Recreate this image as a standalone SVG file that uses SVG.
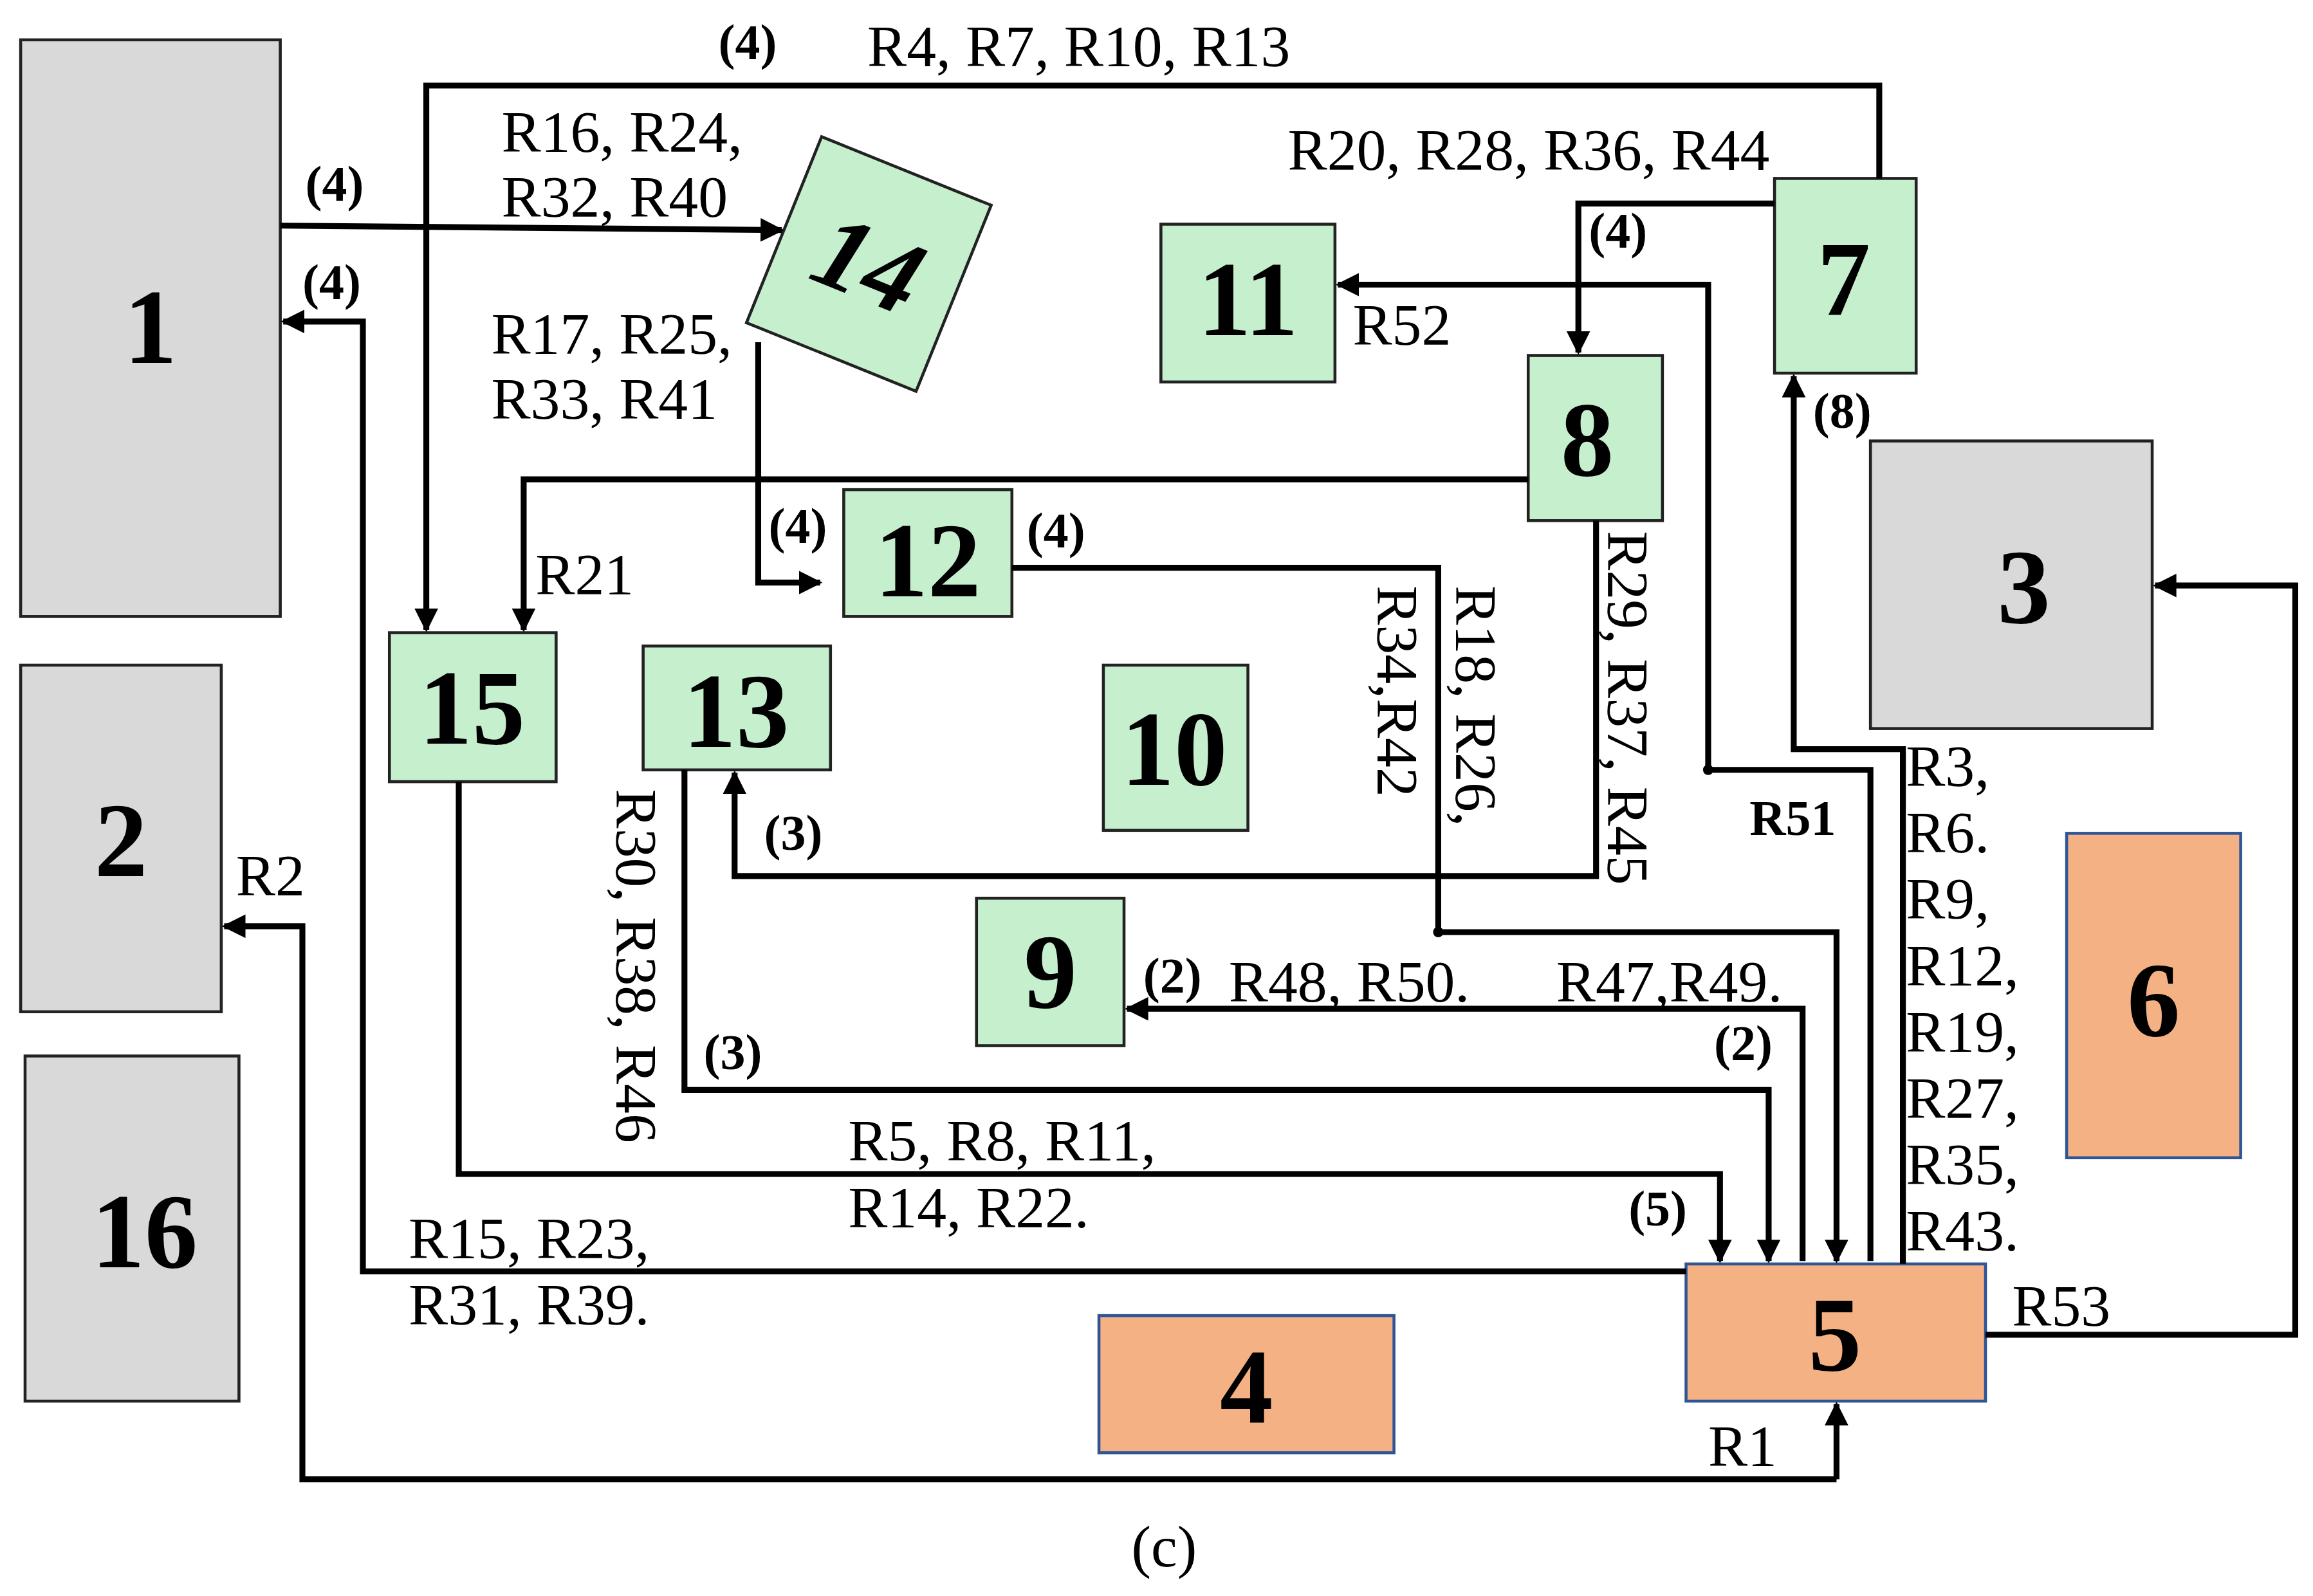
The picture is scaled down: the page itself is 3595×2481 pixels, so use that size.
<svg xmlns="http://www.w3.org/2000/svg" width="3595" height="2481" viewBox="0 0 3595 2481">
<defs>
<marker id="ah" viewBox="0 0 10 10" refX="9" refY="5" markerWidth="4" markerHeight="4" orient="auto" markerUnits="strokeWidth"><path d="M0,0 L10,5 L0,10 z" fill="#000"/></marker>
<style>
.g{fill:#d9d9d9;stroke:#222;stroke-width:2}
.gr{fill:#c6efce;stroke:#222;stroke-width:2}
.o{fill:#f4b183;stroke:#2f5597;stroke-width:2}
.n{font-family:"Liberation Serif",serif;font-weight:bold;font-size:72px;text-anchor:middle;dominant-baseline:central}
.l{font-family:"Liberation Serif",serif;font-size:40px}
.b{font-family:"Liberation Serif",serif;font-size:34px;font-weight:bold}
.c{fill:none;stroke:#000;stroke-width:4}
</style>
</defs>
<rect width="3595" height="2481" fill="#fff"/>
<g transform="scale(2.2927)">
<g id="n1"><rect class="g" x="14" y="27" width="176" height="391"/><text class="n" x="102" y="222">1</text></g>
<g id="n2"><rect class="g" x="14" y="451" width="136" height="235"/><text class="n" x="82" y="570">2</text></g>
<g id="n16"><rect class="g" x="17" y="716" width="145" height="234"/><text class="n" x="98" y="835">16</text></g>
<g id="n3"><rect class="g" x="1268" y="299" width="191" height="195"/><text class="n" x="1372" y="398">3</text></g>
<g id="n6"><rect class="o" x="1401" y="565" width="118" height="220"/><text class="n" x="1460" y="678">6</text></g>
<g id="n4"><rect class="o" x="745" y="892" width="200" height="93"/><text class="n" x="845" y="940">4</text></g>
<g id="n5"><rect class="o" x="1143" y="857" width="203" height="93"/><text class="n" x="1244" y="905">5</text></g>
<g id="n11"><rect class="gr" x="787" y="152" width="118" height="107"/><text class="n" x="846" y="203">11</text></g>
<g id="n7"><rect class="gr" x="1203" y="121" width="96" height="132"/><text class="n" x="1250" y="189">7</text></g>
<g id="n8"><rect class="gr" x="1036" y="241" width="91" height="112"/><text class="n" x="1076" y="298">8</text></g>
<g id="n12"><rect class="gr" x="572" y="332" width="114" height="86"/><text class="n" x="629" y="380">12</text></g>
<g id="n15"><rect class="gr" x="264" y="429" width="113" height="101"/><text class="n" x="320" y="480">15</text></g>
<g id="n13"><rect class="gr" x="436" y="438" width="127" height="84"/><text class="n" x="499" y="482">13</text></g>
<g id="n10"><rect class="gr" x="748" y="451" width="98" height="112"/><text class="n" x="796" y="508">10</text></g>
<g id="n9"><rect class="gr" x="662" y="609" width="100" height="100"/><text class="n" x="712" y="659">9</text></g>
<g id="n14" transform="translate(589,179) rotate(22)"><rect class="gr" x="-62" y="-68" width="124" height="136"/><text class="n" x="0" y="0" font-style="italic">14</text></g>
<g id="connectors">
<polyline class="c" points="1274,121 1274,58 289,58 289,427" marker-end="url(#ah)"/>
<polyline class="c" points="190,153 530,156" marker-end="url(#ah)"/>
<polyline class="c" points="1143,862 246,862 246,218 192,218" marker-end="url(#ah)"/>
<polyline class="c" points="514,232 514,395 556,395" marker-end="url(#ah)"/>
<polyline class="c" points="1036,325 355,325 355,427" marker-end="url(#ah)"/>
<polyline class="c" points="1203,138 1070,138 1070,239" marker-end="url(#ah)"/>
<polyline class="c" points="1268,855 1268,522 1158,522 1158,193 907,193" marker-end="url(#ah)"/>
<polyline class="c" points="686,385 975,385 975,632 1245,632 1245,855" marker-end="url(#ah)"/>
<polyline class="c" points="1290,857 1290,508 1216,508 1216,255" marker-end="url(#ah)"/>
<polyline class="c" points="1082,353 1082,594 498,594 498,524" marker-end="url(#ah)"/>
<polyline class="c" points="464,522 464,739 1199,739 1199,855" marker-end="url(#ah)"/>
<polyline class="c" points="311,530 311,796 1166,796 1166,855" marker-end="url(#ah)"/>
<polyline class="c" points="1222,855 1222,684 764,684" marker-end="url(#ah)"/>
<polyline class="c" points="1346,905 1556,905 1556,397 1461,397" marker-end="url(#ah)"/>
<polyline class="c" points="1245,1003 205,1003 205,628 152,628" marker-end="url(#ah)"/>
<polyline class="c" points="1245,1003 1245,952" marker-end="url(#ah)"/>
<circle cx="1158" cy="522" r="3.5"/><circle cx="975" cy="632" r="3.5"/>
</g>
<g id="labels">
<text class="b" x="487" y="40">(4)</text>
<text class="l" x="588" y="45">R4, R7, R10, R13</text>
<text class="b" x="207" y="136">(4)</text>
<text class="l" x="340" y="103">R16, R24,</text>
<text class="l" x="340" y="147">R32, R40</text>
<text class="b" x="205" y="203">(4)</text>
<text class="l" x="333" y="240">R17, R25,</text>
<text class="l" x="333" y="284">R33, R41</text>
<text class="b" x="521" y="368">(4)</text>
<text class="l" x="363" y="403">R21</text>
<text class="l" x="873" y="115">R20, R28, R36, R44</text>
<text class="b" x="1077" y="168">(4)</text>
<text class="l" x="917" y="234">R52</text>
<text class="b" x="696" y="371">(4)</text>
<text class="l" transform="translate(987,397) rotate(90)">R18, R26,</text>
<text class="l" transform="translate(934,397) rotate(90)">R34,R42</text>
<text class="l" transform="translate(1090,360) rotate(90)">R29, R37, R45</text>
<text class="l" transform="translate(418,535) rotate(90)">R30, R38, R46</text>
<text class="b" x="1229" y="290">(8)</text>
<text class="b" x="1186" y="566">R51</text>
<text class="l" x="1292" y="533">R3,</text>
<text class="l" x="1292" y="578">R6.</text>
<text class="l" x="1292" y="623">R9,</text>
<text class="l" x="1292" y="668">R12,</text>
<text class="l" x="1292" y="713">R19,</text>
<text class="l" x="1292" y="758">R27,</text>
<text class="l" x="1292" y="803">R35,</text>
<text class="l" x="1292" y="848">R43.</text>
<text class="b" x="518" y="576">(3)</text>
<text class="b" x="477" y="725">(3)</text>
<text class="b" x="775" y="673">(2)</text>
<text class="l" x="833" y="679">R48, R50.</text>
<text class="l" x="1055" y="679">R47,R49.</text>
<text class="b" x="1162" y="719">(2)</text>
<text class="l" x="575" y="787">R5, R8, R11,</text>
<text class="l" x="575" y="832">R14, R22.</text>
<text class="b" x="1104" y="831">(5)</text>
<text class="l" x="277" y="853">R15, R23,</text>
<text class="l" x="277" y="898">R31, R39.</text>
<text class="l" x="160" y="607">R2</text>
<text class="l" x="1364" y="899">R53</text>
<text class="l" x="1158" y="994">R1</text>
<text class="l" x="767" y="1062" font-size="30">(c)</text>
</g>
</g>
</svg>
